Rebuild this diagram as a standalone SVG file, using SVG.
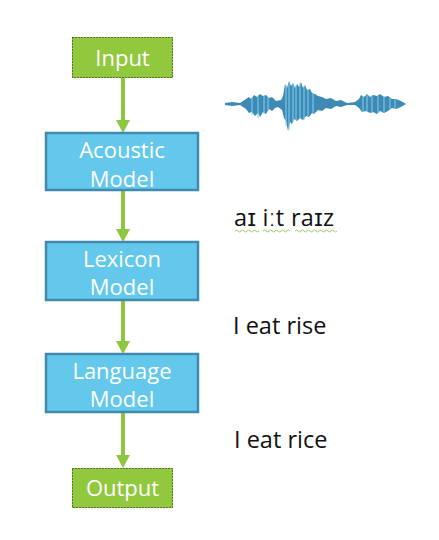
<svg xmlns="http://www.w3.org/2000/svg" width="439" height="540" viewBox="0 0 439 540">
<defs>
<style>
.box{fill:#64C8EC;stroke:#3F8AAE;stroke-width:2.5}
.io{fill:#92C83E}
.sel{fill:none;stroke:#222;stroke-width:1;stroke-dasharray:1 2}
.nt{font-family:"Open Sans","Liberation Sans",sans-serif;font-size:22px;fill:#fff;text-anchor:middle}
.lbl{font-family:"Open Sans","Liberation Sans",sans-serif;font-size:23.5px;fill:#111}
.con{stroke:#8DC63F;stroke-width:4;fill:none}
.head{fill:#8DC63F}
</style>
</defs>
<rect width="439" height="540" fill="#fff"/>
<g id="connectors">
<line class="con" x1="123" y1="78" x2="123" y2="122"/><polygon class="head" points="116,120 130,120 123,133"/>
<line class="con" x1="123" y1="190" x2="123" y2="231"/><polygon class="head" points="116,229 130,229 123,242"/>
<line class="con" x1="123" y1="300" x2="123" y2="343"/><polygon class="head" points="116,341 130,341 123,354"/>
<line class="con" x1="123" y1="412" x2="123" y2="457"/><polygon class="head" points="116,455 130,455 123,468"/>
</g>
<g id="input">
<rect class="io" x="72" y="37" width="101" height="41"/>
<rect class="sel" x="72.5" y="37.5" width="100" height="40"/>
<text class="nt" x="122.5" y="66">Input</text>
</g>
<g id="acoustic">
<rect class="box" x="46" y="133" width="152" height="57"/>
<text class="nt" x="122" y="158">Acoustic</text>
<text class="nt" x="122" y="187">Model</text>
</g>
<g id="lexicon">
<rect class="box" x="46" y="242" width="152" height="58"/>
<text class="nt" x="122" y="267">Lexicon</text>
<text class="nt" x="122" y="295">Model</text>
</g>
<g id="language">
<rect class="box" x="46" y="354" width="152" height="58"/>
<text class="nt" x="122" y="379">Language</text>
<text class="nt" x="122" y="407">Model</text>
</g>
<g id="output">
<rect class="io" x="72" y="468" width="101" height="40"/>
<rect class="sel" x="72.5" y="468.5" width="100" height="39"/>
<text class="nt" x="122.5" y="496">Output</text>
</g>
<g id="waveform">
<path fill="#3F8AB5" d="M225,103 L232,102 L240,103 L246,99 L249,97 L251,99 L254,95 L257,97 L260,94 L263,96 L266,95 L269,98 L272,97 L276,101 L281,100 L283,96 L285,84 L287,88 L289,81 L291,86 L293,83 L295,88 L297,84 L299,87 L301,82 L303,88 L305,85 L307,90 L310,89 L312,93 L315,94 L318,96 L322,97 L326,99 L331,98 L336,101 L341,100 L347,103 L355,102 L359,99 L361,95 L364,97 L367,94 L370,97 L373,95 L377,96 L380,94 L384,97 L388,96 L392,99 L396,99 L401,101 L406,104 L401,107 L396,109 L392,108 L388,111 L384,113 L380,111 L377,114 L373,112 L370,113 L366,111 L362,112 L359,108 L355,105 L347,105 L341,107 L336,106 L331,109 L326,108 L322,111 L318,110 L314,114 L312,113 L309,117 L306,116 L303,120 L300,118 L297,121 L294,119 L292,124 L290,122 L288,131 L286,121 L284,118 L282,110 L278,107 L275,108 L272,111 L269,109 L266,114 L263,112 L260,117 L258,113 L255,116 L252,112 L249,113 L246,109 L243,107 L240,105 L232,106 L225,105 Z"/>
<g stroke="#7FD0F0" stroke-width="1">
<line x1="252" y1="97" x2="252" y2="115"/><line x1="258" y1="95" x2="258" y2="118"/><line x1="264" y1="96" x2="264" y2="114"/><line x1="268" y1="97" x2="268" y2="110"/>
<line x1="286" y1="85" x2="286" y2="126"/><line x1="289" y1="82" x2="289" y2="130"/><line x1="293" y1="84" x2="293" y2="122"/><line x1="296" y1="85" x2="296" y2="120"/><line x1="300" y1="83" x2="300" y2="118"/><line x1="304" y1="86" x2="304" y2="120"/><line x1="308" y1="90" x2="308" y2="116"/><line x1="313" y1="93" x2="313" y2="113"/>
<line x1="363" y1="96" x2="363" y2="112"/><line x1="367" y1="95" x2="367" y2="112"/><line x1="372" y1="96" x2="372" y2="113"/><line x1="378" y1="95" x2="378" y2="113"/><line x1="384" y1="96" x2="384" y2="112"/><line x1="390" y1="98" x2="390" y2="110"/><line x1="395" y1="99" x2="395" y2="109"/>
</g>
</g>
<g id="labels">
<text class="lbl" x="234" y="226" textLength="100">aɪ iːt raɪz</text>
<path d="M235,231 q1.5,-2 3,0 t3,0 t3,0 t3,0 t3,0 t3,0 t3,0 t3,0 M263,231 q1.5,-2 3,0 t3,0 t3,0 t3,0 t3,0 t3,0 t3,0 t3,0 t3,0 M295,231 q1.5,-2 3,0 t3,0 t3,0 t3,0 t3,0 t3,0 t3,0 t3,0 t3,0 t3,0 t3,0 t3,0 t3,0 t3,0" fill="none" stroke="#9ACD5A" stroke-width="1"/>
<text class="lbl" x="233" y="334">I eat rise</text>
<text class="lbl" x="234" y="448">I eat rice</text>
</g>
</svg>
